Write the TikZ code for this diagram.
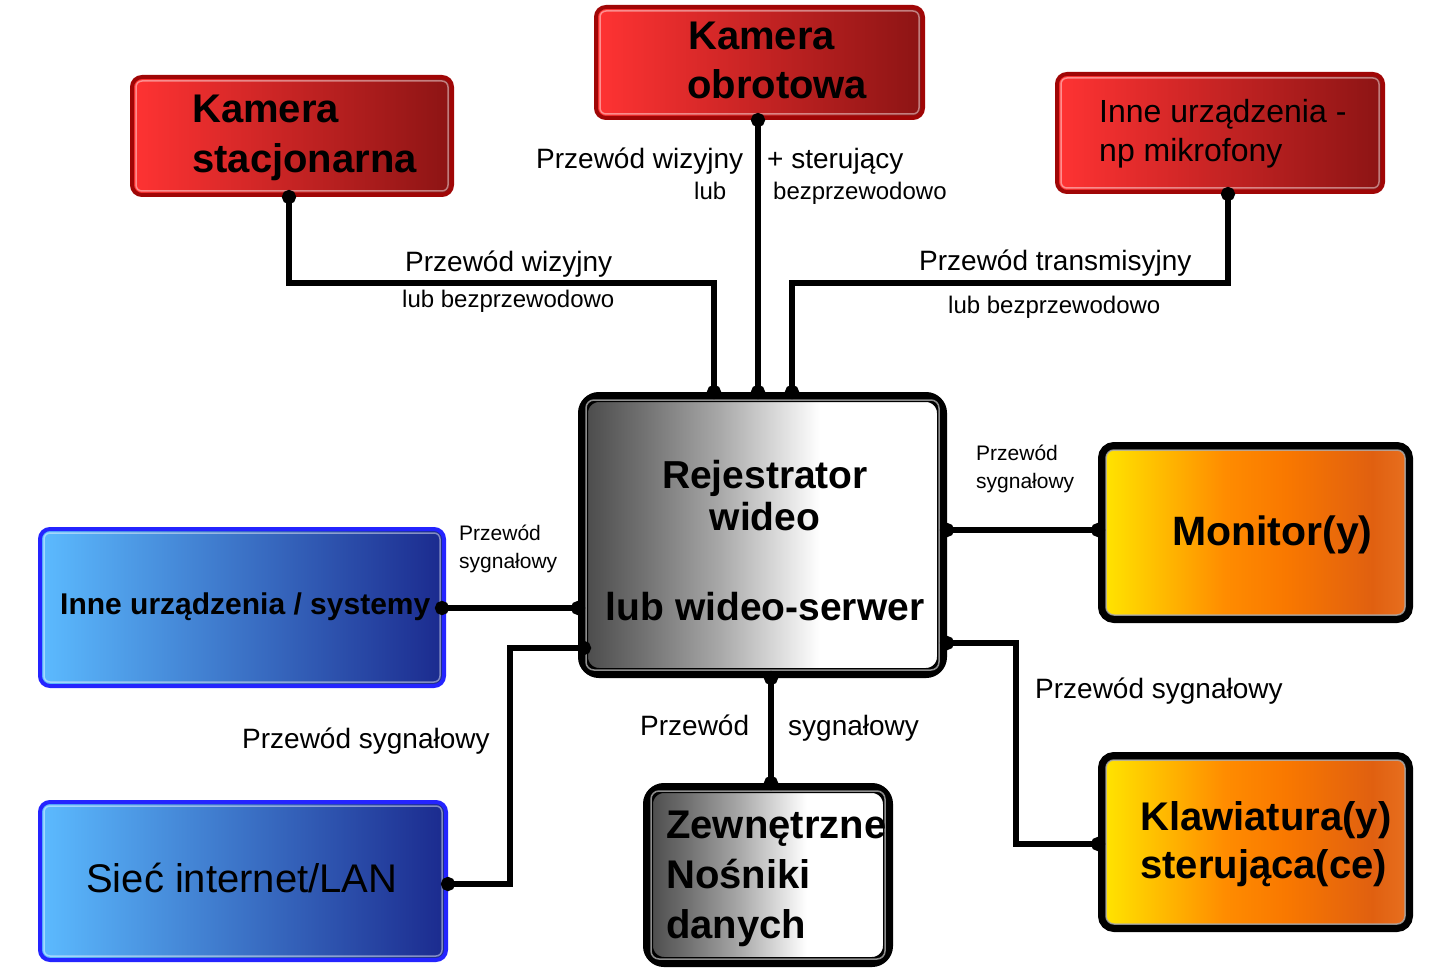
\documentclass[tikz,border=0pt]{standalone}
\usepackage{fontspec}
\setmainfont{Liberation Sans}
\usetikzlibrary{arrows.meta}
\newcommand\fsz[1]{\fontsize{#1}{#1}\selectfont}
\definecolor{redL}{HTML}{FF3333}
\definecolor{redR}{HTML}{8C1414}
\definecolor{redB}{HTML}{A00606}
\definecolor{blueL}{HTML}{5CBBFF}
\definecolor{blueR}{HTML}{1B2A8E}
\definecolor{blueB}{HTML}{2424FF}
\definecolor{yelA}{HTML}{FFE600}
\definecolor{yelB}{HTML}{FFD400}
\definecolor{orgA}{HTML}{FF8C00}
\definecolor{orgB}{HTML}{F97800}
\definecolor{orgC}{HTML}{E06010}
\definecolor{orgD}{HTML}{E87020}
\definecolor{grA}{HTML}{4A4A4A}
\definecolor{grB}{HTML}{727272}
\definecolor{grC}{HTML}{A8A8A8}
\definecolor{grD}{HTML}{E6E6E6}
\pgfdeclarehorizontalshading{orangesh}{100bp}{color(0bp)=(yelA); color(25bp)=(yelA); color(29bp)=(yelB); color(45bp)=(orgA); color(55bp)=(orgB); color(69bp)=(orgC); color(75bp)=(orgD); color(100bp)=(orgD)}
\pgfdeclarehorizontalshading{graysh}{100bp}{color(0bp)=(grA); color(25bp)=(grA); color(33.5bp)=(grB); color(44bp)=(grC); color(54bp)=(grD); color(58bp)=(white); color(100bp)=(white)}
\begin{document}
\begin{tikzpicture}[x=1pt,y=-1pt,
  box/.style={rectangle, rounded corners=10pt, inner sep=0pt},
  redbox/.style={box, draw=redB, line width=4pt, left color=redL, right color=redR},
  bluebox/.style={box, draw=blueB, line width=4pt, left color=blueL, right color=blueR},
  orangebox/.style={box, draw=black, line width=8pt, rounded corners=12pt, shading=orangesh},
  graybox/.style={box, draw=black, line width=10pt, rounded corners=16pt, shading=graysh},
  hl/.style={draw=white, opacity=0.45, line width=1.5pt, rounded corners=6pt},
  hlk/.style={draw=gray!60, opacity=0.8, line width=1.5pt, rounded corners=8pt},
  wire/.style={line width=6pt, line join=miter,
    arrows={Circle[length=14pt,width=14pt]-Circle[length=14pt,width=14pt]},
    shorten <=-7pt, shorten >=-7pt},
  bigb/.style={anchor=base west, inner sep=0pt, font=\fsz{40}\bfseries},
  bigr/.style={anchor=base west, inner sep=0pt, font=\fsz{40}},
  midr/.style={anchor=base west, inner sep=0pt, font=\fsz{32}},
  lbl/.style={anchor=base west, inner sep=0pt, font=\fsz{28}},
  sml/.style={anchor=base west, inner sep=0pt, font=\fsz{24}},
  tny/.style={anchor=base west, inner sep=0pt, font=\fsz{21}},
  rjt/.style={anchor=base, inner sep=0pt, font=\fsz{39}\bfseries}]
\fill[white] (0,0) rectangle (1436,979);
\useasboundingbox (0,0) rectangle (1436,979);

% ---------- boxes ----------
\node[redbox, minimum width=320, minimum height=118] (ks) at (292,136) {};
\node[redbox, minimum width=327, minimum height=111] (ko) at (759.5,62.5) {};
\node[redbox, minimum width=326, minimum height=118] (im) at (1220,133) {};
\node[graybox, minimum width=359, minimum height=276] (rej) at (762.5,535) {};
\node[orangebox, minimum width=307, minimum height=173] (mon) at (1255.5,532.5) {};
\node[orangebox, minimum width=307, minimum height=172] (kl) at (1255.5,842) {};
\node[bluebox, minimum width=404, minimum height=157] (iu) at (242,607.5) {};
\node[bluebox, minimum width=406, minimum height=158] (siec) at (243,881) {};
\node[graybox, minimum width=240, minimum height=174] (zew) at (768,875) {};

\foreach \n in {ks,ko,im,iu,siec}
  \draw[hl] ([shift={(6,6)}]\n.north west) rectangle ([shift={(-6,-6)}]\n.south east);
\foreach \n in {rej,mon,kl,zew}
  \draw[hlk] ([shift={(8,8)}]\n.north west) rectangle ([shift={(-8,-8)}]\n.south east);

% ---------- box texts ----------
\node[bigb] (ks1) at (192,123) {Kamera};
\node[bigb] (ks2) at (192,172) {stacjonarna};
\node[bigb] (ko1) at (688,50) {Kamera};
\node[bigb] (ko2) at (687,99) {obrotowa};
\node[midr] (im1) at (1099,123) {Inne urządzenia -};
\node[midr] (im2) at (1099,162) {np mikrofony};
\node[rjt] (rj1) at (765,488) {Rejestrator};
\node[rjt] (rj2) at (765,530) {wideo};
\node[rjt] (rj3) at (765,620) {lub wideo-serwer};
\node[anchor=base west, inner sep=0pt, font=\fsz{41}\bfseries] (mo1) at (1172,545) {Monitor(y)};
\node[bigb] (kl1) at (1140,830) {Klawiatura(y)};
\node[bigb] (kl2) at (1140,878) {sterująca(ce)};
\node[anchor=base west, inner sep=0pt, font=\fsz{30}\bfseries] (iu1) at (60,614) {Inne urządzenia / systemy};
\node[bigr] (si1) at (86,892) {Sieć internet/LAN};
\node[bigb] (ze1) at (666,838) {Zewnętrzne};
\node[bigb] (ze2) at (666,888) {Nośniki};
\node[bigb] (ze3) at (666,938) {danych};

% ---------- bend points ----------
\coordinate (b1) at (289,283);
\coordinate (b2) at (714,283);
\coordinate (b3) at (758,250);
\coordinate (b4) at (1228,283);
\coordinate (b5) at (792,283);
\coordinate (b6) at (1000,530);
\coordinate (b7) at (1016,643);
\coordinate (b8) at (1016,844);
\coordinate (b9) at (500,608);
\coordinate (b10) at (510,648);
\coordinate (b11) at (510,884);
\coordinate (b12) at (771,730);

% ---------- connectors ----------
\draw[wire] (ks.south -| b1) -- (b1) -- (b2) -- (rej.north -| b2);
\draw[wire] (ko.south -| b3) -- (rej.north -| b3);
\draw[wire] (im.south -| b4) -- (b4) -- (b5) -- (rej.north -| b5);
\draw[wire] (rej.east |- b6) -- (mon.west |- b6);
\draw[wire] (rej.east |- b7) -- (b7) -- (b8) -- (kl.west |- b8);
\draw[wire] ([shift={(-4,0)}]iu.east |- b9) -- (rej.west |- b9);
\draw[wire] ([shift={(6,0)}]rej.west |- b10) -- (b10) -- (b11) -- (siec.east |- b11);
\draw[wire] (rej.south -| b12) -- (zew.north -| b12);

% ---------- connector labels ----------
\node[lbl] (l1) at (405,271) {Przewód wizyjny};
\node[sml] (l2) at (402,307) {lub bezprzewodowo};
\node[lbl] (l3) at (536,168) {Przewód wizyjny};
\node[sml] (l4) at (694,200) {lub};
\node[lbl] (l5) at (767,168) {+ sterujący};
\node[sml] (l6) at (773,200) {bezprzewodowo};
\node[lbl] (l7) at (919,270) {Przewód transmisyjny};
\node[sml] (l8) at (948,313) {lub bezprzewodowo};
\node[tny] (l9) at (976,460) {Przewód};
\node[tny] (l10) at (976,488) {sygnałowy};
\node[tny] (l11) at (459,540) {Przewód};
\node[tny] (l12) at (459,568) {sygnałowy};
\node[lbl] (l13) at (1035,698) {Przewód sygnałowy};
\node[lbl] (l14) at (242,748) {Przewód sygnałowy};
\node[lbl] (l15) at (640,735) {Przewód};
\node[lbl] (l16) at (788,735) {sygnałowy};
\end{tikzpicture}
\end{document}
